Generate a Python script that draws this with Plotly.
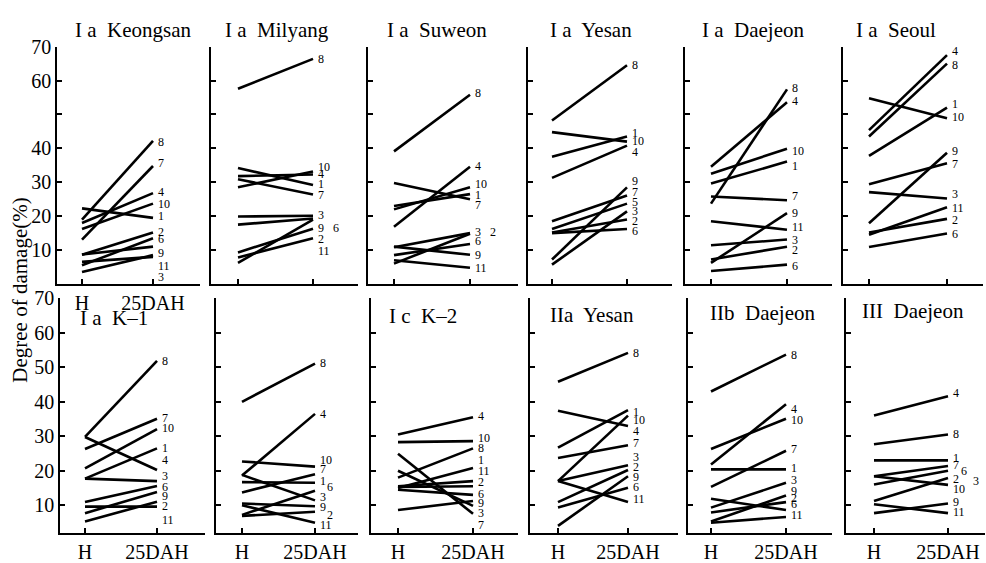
import plotly.graph_objects as go

# ---------------- data ----------------
x_labels = ["H", "25DAH"]
panel_titles = ["I a  Keongsan", "I a  Milyang", "I a  Suweon", "I a  Yesan", "I a  Daejeon", "I a  Seoul",
                "I a  K\u20131", "", "I c  K\u20132", "IIa  Yesan", "IIb  Daejeon", "III  Daejeon"]

p1_ids = ["8", "7", "4", "10", "1", "2", "6", "9", "11", "3"]
p1_h = [19.0, 13.1, 18.0, 16.2, 22.3, 8.6, 5.5, 8.7, 6.5, 3.5]
p1_d = [42.2, 34.8, 26.8, 23.7, 19.5, 15.2, 13.5, 11.0, 8.0, 8.5]
p1_lab = ["8", "7", "4", "10", "1", "2", "6", "9", "11", "3"]
p1_laby = [41.9, 35.6, 27.1, 23.5, 20.0, 15.4, 13.3, 9.1, 5.3, 2.1]

p2_ids = ["8", "10", "4", "1", "7", "3", "9", "6", "2", "11"]
p2_h = [57.6, 28.5, 31.8, 34.2, 30.9, 19.9, 17.5, 9.3, 7.8, 6.2]
p2_d = [66.4, 33.2, 32.3, 29.2, 26.4, 20.1, 19.3, 16.3, 13.5, 19.0]
p2_lab = ["8", "10", "4", "1", "7", "3", "9", "6", "2", "11"]
p2_laby = [66.4, 34.6, 32.3, 29.4, 26.1, 20.4, 16.6, 16.6, 13.3, 9.6]

p3_ids = ["8", "4", "10", "1", "7", "3", "2", "6", "9", "11"]
p3_h = [39.1, 16.9, 22.0, 23.0, 29.8, 10.8, 6.0, 8.5, 11.0, 7.0]
p3_d = [55.8, 34.6, 28.5, 26.5, 25.0, 15.0, 14.8, 11.8, 8.6, 4.8]
p3_lab = ["8", "4", "10", "1", "7", "3", "2", "6", "9", "11"]
p3_laby = [56.2, 34.9, 29.4, 26.1, 23.3, 15.4, 15.4, 12.6, 8.6, 4.8]

p4_ids = ["8", "1", "10", "4", "9", "7", "5", "3", "2", "6"]
p4_h = [48.2, 44.8, 37.5, 31.3, 7.2, 18.5, 16.2, 5.7, 15.2, 15.0]
p4_d = [64.5, 42.0, 43.5, 40.8, 28.5, 26.1, 23.7, 21.4, 19.0, 16.2]
p4_lab = ["8", "1", "10", "4", "9", "7", "5", "3", "2", "6"]
p4_laby = [64.7, 44.6, 42.2, 38.9, 30.4, 27.2, 24.2, 21.4, 18.7, 15.6]

p5_ids = ["8", "4", "10", "1", "7", "9", "11", "3", "2", "6"]
p5_h = [23.7, 34.6, 32.5, 29.6, 25.8, 6.2, 18.5, 11.4, 7.2, 3.8]
p5_d = [57.4, 53.6, 39.9, 36.1, 24.7, 20.9, 16.0, 13.1, 11.0, 5.7]
p5_lab = ["8", "4", "10", "1", "7", "9", "11", "3", "2", "6"]
p5_laby = [57.7, 53.9, 39.1, 34.9, 25.8, 20.9, 16.9, 13.1, 10.0, 5.3]

p6_ids = ["4", "8", "1", "10", "9", "7", "3", "11", "2", "6"]
p6_h = [45.4, 43.5, 37.8, 54.8, 17.9, 29.4, 27.1, 14.5, 15.2, 10.9]
p6_d = [67.5, 65.0, 52.0, 48.9, 38.7, 35.6, 25.2, 22.6, 19.2, 14.9]
p6_lab = ["4", "8", "1", "10", "9", "7", "3", "11", "2", "6"]
p6_laby = [68.8, 64.5, 53.1, 49.3, 39.1, 35.3, 26.4, 22.3, 19.0, 14.7]

p7_ids = ["8", "7", "10", "1", "4", "3", "6", "9", "2", "11"]
p7_h = [29.8, 26.3, 20.7, 17.7, 29.8, 17.7, 10.9, 7.7, 9.6, 5.3]
p7_d = [51.9, 35.1, 32.1, 26.5, 20.2, 17.0, 15.6, 13.8, 9.6, 11.0]
p7_lab = ["8", "7", "10", "1", "4", "3", "6", "9", "2", "11"]
p7_laby = [51.9, 35.4, 32.4, 26.7, 23.0, 18.4, 15.3, 12.8, 9.7, 5.8]

p8_ids = ["8", "4", "10", "7", "1", "3", "6", "9", "2", "11"]
p8_h = [40.0, 18.6, 22.7, 13.7, 16.7, 18.8, 7.2, 10.5, 6.9, 10.0]
p8_d = [51.1, 36.5, 21.2, 19.0, 16.5, 11.4, 14.2, 9.7, 8.1, 4.9]
p8_lab = ["8", "4", "10", "7", "1", "6", "3", "9", "2", "11"]
p8_laby = [51.4, 36.5, 23.0, 20.4, 17.0, 15.3, 12.5, 9.4, 7.3, 4.2]

p9_ids = ["4", "10", "3", "9", "8", "1", "11", "2", "6", "7"]
p9_h = [30.5, 28.3, 24.9, 20.0, 18.0, 15.0, 15.5, 15.3, 14.5, 8.6]
p9_d = [35.5, 28.6, 7.5, 9.8, 26.5, 20.8, 17.0, 15.5, 13.0, 11.2]
p9_lab = ["4", "10", "8", "1", "11", "2", "6", "9", "3", "7"]
p9_laby = [35.8, 29.5, 26.5, 23.0, 19.8, 16.8, 13.3, 10.7, 7.7, 4.4]

p10_ids = ["8", "4", "1", "10", "7", "11", "3", "2", "6", "9"]
p10_h = [45.8, 37.4, 26.7, 17.0, 23.7, 17.0, 17.0, 10.9, 9.3, 4.0]
p10_d = [54.2, 33.0, 37.6, 36.0, 27.4, 10.9, 21.6, 20.2, 15.1, 18.4]
p10_lab = ["8", "1", "10", "4", "7", "3", "2", "9", "6", "11"]
p10_laby = [54.2, 37.0, 34.7, 31.4, 28.1, 24.0, 21.2, 18.1, 15.3, 11.9]

p11_ids = ["8", "4", "10", "7", "1", "3", "9", "2", "6", "11"]
p11_h = [43.0, 21.8, 26.3, 15.3, 20.4, 9.3, 5.3, 7.9, 11.9, 4.9]
p11_d = [53.7, 39.3, 35.1, 25.8, 20.4, 16.5, 12.8, 10.9, 8.6, 6.6]
p11_lab = ["8", "4", "10", "7", "1", "3", "9", "2", "6", "11"]
p11_laby = [53.7, 37.8, 34.7, 26.3, 20.7, 17.4, 14.2, 12.2, 10.3, 7.2]

p12_ids = ["4", "8", "1", "7", "6", "3", "2", "9", "11"]
p12_h = [36.0, 27.7, 23.0, 18.4, 16.0, 18.4, 11.2, 7.7, 10.3]
p12_d = [41.6, 30.5, 23.0, 21.4, 20.0, 15.9, 17.9, 10.5, 7.7]
p12_lab = ["4", "8", "1", "7", "6", "2", "3", "10", "9", "11"]
p12_laby = [42.6, 30.8, 23.6, 21.6, 19.9, 17.6, 17.0, 14.6, 10.9, 8.0]

y_ticks = [10, 20, 30, 40, 50, 60, 70]
y_ticktext_top = ["10", "20", "30", "40", "", "60", "70"]
y_ticktext_bottom = ["10", "20", "30", "40", "50", "60", "70"]
y_title = "Degree of damage(%)"

panels = [
    (p1_ids, p1_h, p1_d, p1_lab, p1_laby),
    (p2_ids, p2_h, p2_d, p2_lab, p2_laby),
    (p3_ids, p3_h, p3_d, p3_lab, p3_laby),
    (p4_ids, p4_h, p4_d, p4_lab, p4_laby),
    (p5_ids, p5_h, p5_d, p5_lab, p5_laby),
    (p6_ids, p6_h, p6_d, p6_lab, p6_laby),
    (p7_ids, p7_h, p7_d, p7_lab, p7_laby),
    (p8_ids, p8_h, p8_d, p8_lab, p8_laby),
    (p9_ids, p9_h, p9_d, p9_lab, p9_laby),
    (p10_ids, p10_h, p10_d, p10_lab, p10_laby),
    (p11_ids, p11_h, p11_d, p11_lab, p11_laby),
    (p12_ids, p12_h, p12_d, p12_lab, p12_laby),
]

# ---------------- layout geometry (pixels) ----------------
W, H = 986, 563
# left axis, H position, 25DAH position, right end of x axis
geom_x = [
    (57, 82, 153, 200), (211, 238, 313, 358), (368, 394, 470, 518),
    (528, 552, 627, 672), (685, 711, 787, 832), (843, 869, 947, 983),
    (60, 85, 157, 205), (216, 242, 315, 358), (371, 398, 473, 518),
    (530, 558, 628, 678), (688, 711, 786, 832), (846, 874, 948, 985),
]
row_y = {0: (283, 37, 0, 70), 1: (541, 298, 2, 70)}  # bottom px, top px, ymin, ymax
title_pos = [(133, 20), (277, 20), (437, 20), (591, 20), (753, 20), (896, 20),
             (114, 318), (0, 0), (423, 316), (592, 315), (762, 313), (913, 311)]
# extra horizontal shift (px) of particular line labels
label_shift = {(1, "6"): 15, (2, "2"): 15, (7, "6"): 7, (7, "2"): 7, (11, "6"): 8, (11, "3"): 20}

serif = "Liberation Serif"
fig = go.Figure()
annotations = []

for i, (ids, hv, dv, labs, laby) in enumerate(panels):
    n = i + 1
    row = 0 if i < 6 else 1
    L, hx, dx, R = geom_x[i]
    yb, yt, ymin, ymax = row_y[row]
    xs = "x" if n == 1 else f"x{n}"
    ys = "y" if n == 1 else f"y{n}"
    for lid, a, b in zip(ids, hv, dv):
        fig.add_trace(go.Scatter(x=[0, 1], y=[a, b], mode="lines", name=lid,
                                 line=dict(color="black", width=2.6),
                                 xaxis=xs, yaxis=ys, showlegend=False))
    unit = dx - hx
    show_x = (n == 1) or (n >= 7)
    show_y = n in (1, 7)
    fig.layout[f"xaxis{n}"] = dict(
        domain=[L / W, R / W], range=[(L - hx) / unit, (R - hx) / unit],
        anchor=ys, showline=True, linecolor="black", linewidth=1.5,
        ticks="inside", ticklen=5, tickwidth=1.5, tickcolor="black",
        tickvals=[0, 1], ticktext=x_labels, showticklabels=show_x,
        showgrid=False, zeroline=False,
        tickfont=dict(family=serif, size=20, color="black"))
    fig.layout[f"yaxis{n}"] = dict(
        domain=[1 - yb / H, 1 - yt / H], range=[ymin, ymax], anchor=xs,
        showline=True, linecolor="black", linewidth=1.5,
        ticks="inside", ticklen=5, tickwidth=1.5, tickcolor="black",
        tickvals=y_ticks, ticktext=(y_ticktext_top if row == 0 else y_ticktext_bottom),
        showticklabels=show_y, showgrid=False, zeroline=False,
        tickfont=dict(family=serif, size=20, color="black"))
    for t, yv in zip(labs, laby):
        annotations.append(dict(x=1, y=yv, xref=xs, yref=ys, text=t, showarrow=False,
                                xanchor="left", yanchor="middle",
                                xshift=3 + label_shift.get((i, t), 0),
                                font=dict(family=serif, size=12, color="black")))
    if panel_titles[i]:
        tx, ty = title_pos[i]
        annotations.append(dict(x=tx / W, y=1 - ty / H, xref="paper", yref="paper",
                                text=panel_titles[i], showarrow=False,
                                xanchor="center", yanchor="middle",
                                font=dict(family=serif, size=21, color="black")))

annotations.append(dict(x=20 / W, y=1 - 290 / H, xref="paper", yref="paper", text=y_title,
                        textangle=-90, showarrow=False, xanchor="center", yanchor="middle",
                        font=dict(family=serif, size=21, color="black")))

fig.update_layout(width=W, height=H, margin=dict(l=0, r=0, t=0, b=0),
                  font=dict(family=serif, color="black"),
                  paper_bgcolor="white", plot_bgcolor="white", showlegend=False,
                  annotations=annotations)
fig.write_html("out.html", config={"displayModeBar": False},
               post_script="document.body.style.margin='0px';document.body.style.overflow='hidden';")
